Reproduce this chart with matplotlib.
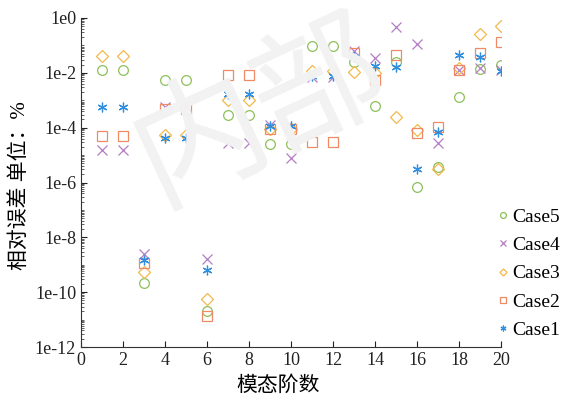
import numpy as np
import matplotlib
matplotlib.use("Agg")
import matplotlib.pyplot as plt
from matplotlib.ticker import FixedLocator, LogLocator, NullFormatter

plt.rcParams['font.family'] = ['Liberation Serif', 'Noto Sans CJK SC', 'DejaVu Sans']

# 模态阶数
modes = np.arange(1, 21)

# log10 of relative error
case1 = [-3.25, -3.25, -8.83, -4.37, -4.37, -9.19, -2.78, -2.78, -3.95, -3.95,
         -2.12, -2.12, -1.43, -1.75, -1.78, -5.49, -4.15, -1.35, -1.41, -1.95]
case2 = [-4.30, -4.30, -8.94, -3.31, -3.31, -10.87, -2.08, -2.08, -4.06, -4.06,
         -4.53, -4.53, -1.29, -2.26, -1.35, -4.18, -3.97, -1.90, -1.29, -0.86]
case3 = [-1.39, -1.39, -9.26, -4.27, -4.27, -10.25, -2.99, -2.99, -4.06, -4.06,
         -1.93, -1.93, -1.98, -2.02, -3.60, -4.08, -5.52, -1.84, -0.60, -0.29]
case4 = [-4.81, -4.81, -8.61, -3.25, -3.25, -8.79, -4.55, -4.55, -3.90, -5.10,
         -2.14, -2.14, -1.19, -1.47, -0.34, -0.96, -4.57, -1.90, -1.84, -1.90]
case5 = [-1.90, -1.90, -9.66, -2.26, -2.26, -10.69, -3.55, -3.55, -4.60, -4.60,
         -1.02, -1.02, -1.59, -3.20, -1.60, -6.18, -5.43, -2.89, -1.87, -1.72]

series = [
    ("Case5", case5, 'o', "#8cc05a"),
    ("Case4", case4, 'x', "#b57cc4"),
    ("Case3", case3, 'D', "#f2b84a"),
    ("Case2", case2, 's', "#ee8a66"),
    ("Case1", case1, (6, 2, 0), "#2f8ee0"),
]

fig = plt.figure(figsize=(5.64, 4.0), dpi=100)
ax = fig.add_axes([0.1436, 0.1325, 0.7447, 0.8225])

# watermark
fig.text(0.2, 0.72, "内部", fontsize=95, color="#f2f2f2", rotation=25,
         family=['Noto Sans CJK SC'], fontweight='light', zorder=0,
         ha='left', va='center')
ax.patch.set_alpha(0)

for name, vals, mk, col in series:
    y = 10.0 ** np.array(vals)
    size = 6 if mk == 'D' else 7
    ax.plot(modes, y, linestyle='none', marker=mk, markersize=size,
            markerfacecolor='none', markeredgecolor=col, markeredgewidth=0.9,
            label=name)

ax.set_yscale('log')
ax.set_xlim(0, 20)
ax.set_ylim(1e-12, 1)
ax.set_xticks(np.arange(0, 21, 2))
major = [10.0 ** k for k in range(-12, 1, 2)]
ax.yaxis.set_major_locator(FixedLocator(major))
ax.set_yticklabels(["1e%d" % k for k in range(-12, 1, 2)])
ax.yaxis.set_minor_locator(LogLocator(base=10, subs=np.arange(1, 10), numticks=100))
ax.yaxis.set_minor_formatter(NullFormatter())

for s in ['top', 'right']:
    ax.spines[s].set_visible(False)
for s in ['left', 'bottom']:
    ax.spines[s].set_linewidth(0.8)
    ax.spines[s].set_color('#333333')
ax.tick_params(which='both', direction='in', labelsize=13, colors='#222222')
ax.tick_params(which='major', length=4)
ax.tick_params(which='minor', length=2, width=0.5)

ax.set_xlabel("模态阶数", fontsize=15)
ax.set_ylabel("相对误差 单位：%", fontsize=15)
ax.xaxis.set_label_coords(0.47, -0.088)
ax.yaxis.set_label_coords(-0.122, 0.49)

leg = ax.legend(loc='lower left', bbox_to_anchor=(0.99, 0.024), frameon=False,
                fontsize=14, handletextpad=0.2, handlelength=0.6,
                labelspacing=0.55, markerscale=0.6, borderaxespad=0,
                borderpad=0)

plt.savefig("out.png", dpi=100)
plt.close()
